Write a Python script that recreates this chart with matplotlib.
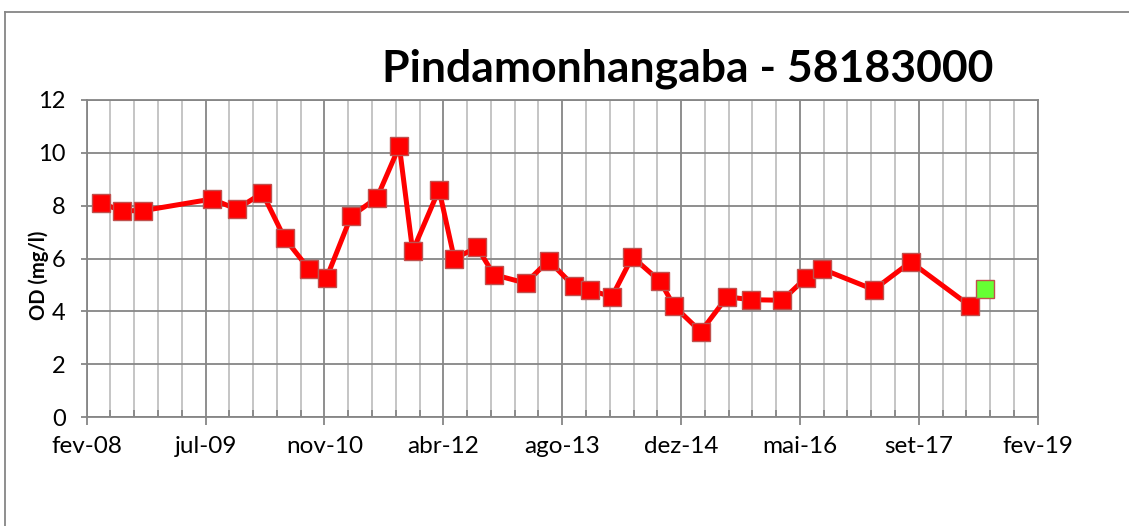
import matplotlib
matplotlib.use("Agg")
import matplotlib.pyplot as plt
import matplotlib.dates as mdates
from matplotlib.lines import Line2D
import numpy as np
import pandas as pd

plt.rcParams['font.family'] = ['Lato', 'DejaVu Sans']

# OD readings (mg/l)
dates = ['2008-04-21', '2008-07-18', '2008-10-15', '2009-08-01', '2009-11-14',
         '2010-03-02', '2010-06-04', '2010-09-14', '2010-11-27', '2011-03-10',
         '2011-06-27', '2011-09-29', '2011-11-24', '2012-03-14', '2012-05-17',
         '2012-08-22', '2012-10-30', '2013-03-13', '2013-06-18', '2013-10-03',
         '2013-12-10', '2014-03-11', '2014-06-05', '2014-10-01', '2014-11-27',
         '2015-03-20', '2015-07-09', '2015-10-16', '2016-02-26', '2016-06-03',
         '2016-08-12', '2017-03-17', '2017-08-19', '2018-04-25']
od = [8.10, 7.81, 7.81, 8.25, 7.87, 8.48, 6.76, 5.60, 5.27, 7.60,
      8.30, 10.25, 6.28, 8.61, 6.00, 6.42, 5.39, 5.07, 5.92, 4.95,
      4.80, 4.55, 6.06, 5.13, 4.20, 3.23, 4.55, 4.44, 4.42, 5.26,
      5.60, 4.82, 5.87, 4.21]

# latest reading, shown in green
last_date = ['2018-06-27']
last_od = [4.84]

x_start = '2008-02-22'
x_end = '2019-02-04'
pt_months = ['jan', 'fev', 'mar', 'abr', 'mai', 'jun',
             'jul', 'ago', 'set', 'out', 'nov', 'dez']

fig = plt.figure(figsize=(11.29, 5.26), dpi=100)
ax = fig.add_axes([0.0768, 0.2072, 0.8423, 0.6027])

xd = pd.to_datetime(dates)
ax.plot(xd, od, color='#FF0000', linewidth=3.6, marker='s', markersize=13.5,
        markerfacecolor='#FF0000', markeredgecolor='#C0504D',
        markeredgewidth=1.0, zorder=5, clip_on=False)
ax.plot(pd.to_datetime(last_date), last_od, linestyle='none', marker='s',
        markersize=13, markerfacecolor='#66FF33', markeredgecolor='#C0504D',
        markeredgewidth=1.0, zorder=6, clip_on=False)

x0 = mdates.date2num(pd.Timestamp(x_start))
x1 = mdates.date2num(pd.Timestamp(x_end))
ax.set_xlim(x0, x1)
ax.set_ylim(0, 12)

major = x0 + np.arange(0, x1 - x0 + 1, 500)
minor = x0 + np.arange(0, x1 - x0 + 1, 100)
ax.set_xticks(major)
ax.set_xticks(minor, minor=True)
labels = []
for m in major:
    d = mdates.num2date(m)
    labels.append(f"{pt_months[d.month - 1]}-{d.year % 100:02d}")
ax.set_xticklabels(labels)
ax.set_yticks(np.arange(0, 13, 2))

ax.grid(True, which='major', axis='both', color='#868686', linewidth=1.3)
ax.grid(True, which='minor', axis='x', color='#C0C0C0', linewidth=1.3)
ax.set_axisbelow(True)

for s in ax.spines.values():
    s.set_color('#868686')
    s.set_linewidth(1.3)

ax.tick_params(axis='x', which='major', direction='out', length=6,
               width=1.3, color='#868686', labelsize=17.5, pad=8)
ax.tick_params(axis='x', which='minor', direction='in', length=5,
               width=1.3, color='#868686')
ax.tick_params(axis='y', which='major', direction='out', length=4,
               width=1.3, color='#868686', labelsize=17, pad=11)

fig.text(0.609, 0.869, 'Pindamonhangaba - 58183000', fontsize=32,
         fontweight='bold', ha='center', va='center')
fig.text(0.034, 0.477, 'OD (mg/l)', fontsize=14.5, fontweight='bold',
         rotation=90, ha='center', va='center')

# outer chart border (left and top visible)
fig.add_artist(Line2D([5 / 1129, 5 / 1129], [0, 1 - 12 / 526],
                      color='#868686', linewidth=1.3))
fig.add_artist(Line2D([5 / 1129, 1], [1 - 12 / 526, 1 - 12 / 526],
                      color='#868686', linewidth=1.3))

fig.savefig('out.png', dpi=100)
